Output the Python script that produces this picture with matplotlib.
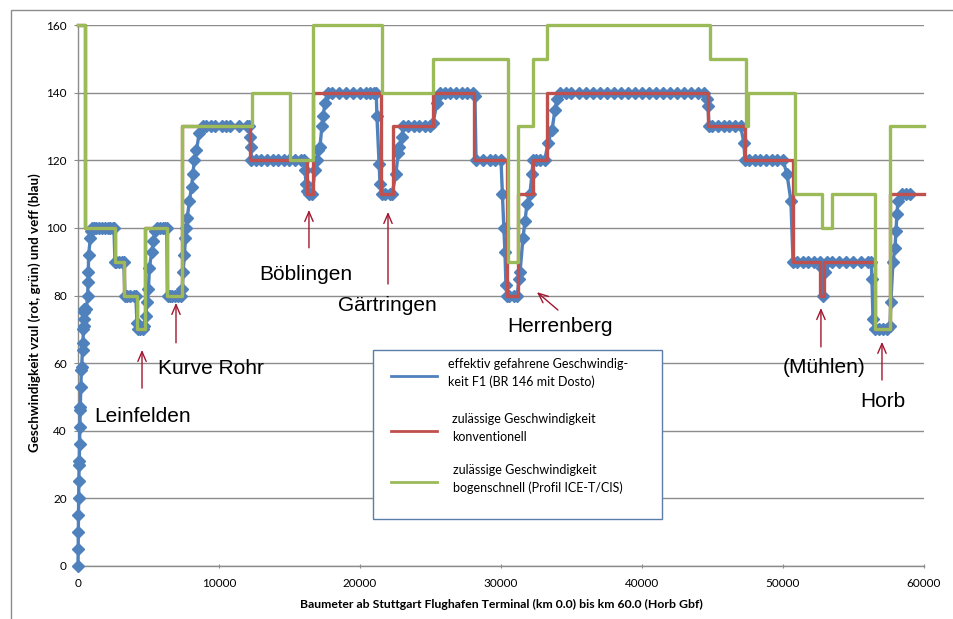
import matplotlib
matplotlib.use("Agg")
import matplotlib.pyplot as plt
from matplotlib.patches import Rectangle
from matplotlib.lines import Line2D

# ---------------- data ----------------
# effective speed (blue), metres / km/h
blue_x = [0, 10, 20, 30, 45, 60, 80, 90, 110, 130, 150, 160, 200, 240, 260, 320, 350, 390, 400, 420,
          440, 460, 600, 680, 720, 730, 750, 880, 930, 1000,
          1100, 1300, 1500, 1700, 1900, 2100, 2300, 2480, 2550, 2620,
          2700, 2900, 3100, 3250, 3330, 3450, 3700, 3950, 4100,
          4180, 4250, 4400, 4600, 4700, 4800, 4900, 5000, 5060, 5230, 5340, 5460, 5600, 5800, 6000, 6200, 6300,
          6350, 6500, 6700, 6900, 7100, 7300,
          7400, 7450, 7550, 7620, 7680, 7750, 7900, 8050, 8150, 8250, 8400, 8600, 8850,
          9100, 9400, 9700, 10200, 10500, 10800, 11400, 12000, 12150, 12200, 12250, 12300,
          12600, 13000, 13400, 13800, 14200, 14600, 15000, 15400, 15800, 16050,
          16100, 16170, 16240, 16400, 16600,
          16800, 16950, 17020, 17160, 17300, 17380, 17520, 17730,
          18000, 18500, 19000, 19500, 20000, 20400, 20700, 21000, 21150,
          21200, 21350, 21420, 21560, 21800, 22100, 22270,
          22550, 22700, 22770, 22980, 23050,
          23400, 23800, 24200, 24600, 25000, 25180,
          25460, 25530, 25670, 26000, 26400, 26800, 27200, 27600, 28000, 28150, 28230,
          28700, 29200, 29600, 30000, 30100, 30200, 30280, 30350, 30420,
          30600, 30900, 31150, 31270, 31350, 31560, 31700, 31840, 32050, 32200, 32270,
          32500, 32800, 33100, 33330, 33620, 33830, 33970, 34180,
          34600, 35000, 35500, 36000, 36500, 37000, 37500, 38000, 38500, 39000, 39500, 40000, 40500,
          41000, 41500, 42000, 42500, 43000, 43500, 44000, 44400,
          44610, 44680, 44750, 45000, 45400, 45800, 46200, 46600, 47000, 47230, 47300,
          47600, 48000, 48400, 48800, 49200, 49600, 50000, 50280, 50560, 50710,
          51000, 51400, 51800, 52200, 52600, 52760, 52830, 52970, 53100,
          53500, 54000, 54500, 55000, 55500, 56000, 56250, 56310, 56380, 56520,
          56800, 57100, 57400, 57590, 57650, 57800, 57940, 58010, 58080, 58150, 58440, 58700, 59000]
blue_v = [0, 5, 10, 15, 20, 25, 30, 31, 36, 41, 46, 47, 53, 58, 59, 64, 66, 70, 71, 73,
          75, 76, 76, 80, 84, 87, 92, 97, 99, 100,
          100, 100, 100, 100, 100, 100, 100, 100, 100, 90,
          90, 90, 90, 90, 80, 80, 80, 80, 80,
          72, 70, 70, 70, 71, 74, 78, 82, 88, 93, 96, 99, 100, 100, 100, 100, 100,
          80, 80, 80, 80, 80, 80,
          82, 87, 92, 97, 100, 103, 108, 112, 116, 120, 123, 128, 130,
          130, 130, 130, 130, 130, 130, 130, 130, 130, 127, 124, 120,
          120, 120, 120, 120, 120, 120, 120, 120, 120, 120,
          117, 113, 111, 110, 110,
          117, 120, 123, 124, 130, 133, 137, 140,
          140, 140, 140, 140, 140, 140, 140, 140, 140,
          133, 119, 113, 110, 110, 110, 110,
          116, 122, 124, 127, 130,
          130, 130, 130, 130, 130, 131,
          137, 139, 140, 140, 140, 140, 140, 140, 140, 139, 120,
          120, 120, 120, 120, 110, 100, 93, 83, 80,
          80, 80, 80, 85, 87, 97, 102, 107, 110, 116, 120,
          120, 120, 120, 125, 129, 135, 138, 140,
          140, 140, 140, 140, 140, 140, 140, 140, 140, 140, 140, 140, 140,
          140, 140, 140, 140, 140, 140, 140, 140,
          138, 136, 130, 130, 130, 130, 130, 130, 130, 125, 120,
          120, 120, 120, 120, 120, 120, 120, 116, 108, 90,
          90, 90, 90, 90, 90, 88, 80, 87, 90,
          90, 90, 90, 90, 90, 90, 90, 85, 73, 70,
          70, 70, 70, 71, 78, 90, 94, 99, 104, 108, 110, 110, 110]

# permitted speed, conventional (red): start of each section / speed
red_x = [0, 500, 2620, 3260, 4150, 4720, 6310, 7350, 12200, 16220, 16670, 21500, 22360, 25180,
         28100, 30420, 31200, 32270, 33260, 44680, 47300, 50700, 52620, 52900, 56520, 57590, 60000]
red_v = [160, 100, 90, 80, 70, 100, 80, 130, 120, 110, 140, 110, 130, 140,
         120, 80, 110, 120, 140, 130, 120, 90, 80, 90, 70, 110, 110]

# permitted speed, tilting profile (green)
green_x = [0, 500, 2620, 3260, 4160, 4750, 6310, 7370, 12340, 15040, 16670, 21560, 25180, 30500,
           31200, 32270, 33260, 44820, 47370, 47550, 50850, 52770, 53470, 56520, 57590, 60000]
green_v = [160, 100, 90, 80, 70, 100, 80, 130, 140, 120, 160, 140, 150, 90,
           130, 150, 160, 150, 130, 140, 110, 100, 110, 70, 130, 130]

y_ticks = [0, 20, 40, 60, 80, 100, 120, 140, 160]
x_ticks = [0, 10000, 20000, 30000, 40000, 50000, 60000]

legend_labels = ["effektiv gefahrene Geschwindig-\nkeit F1 (BR 146 mit Dosto)",
                 "zulässige Geschwindigkeit\nkonventionell",
                 "zulässige Geschwindigkeit\nbogenschnell (Profil ICE-T/CIS)"]

# labels: (text, x_m, v)  and arrows: (tip_x, tip_v, tail_x, tail_v)
place_labels = [("Leinfelden", 1135, 42.6), ("Kurve Rohr", 5674, 56.8), ("Böblingen", 12837, 84.6),
                ("Gärtringen", 18440, 75.4), ("Herrenberg", 30425, 69.2), ("(Mühlen)", 50000, 57.1),
                ("Horb", 55460, 47.0)]
arrows = [(4540, 63.9, 4540, 52.6), (6950, 77.8, 6950, 66.0), (16380, 105.3, 16380, 94.1),
          (21985, 104.7, 21985, 83.4), (32550, 81.0, 34040, 75.7), (52690, 76.3, 52690, 64.8),
          (57020, 66.3, 57020, 55.0)]

BLUE = "#4F81BD"
RED = "#C0504D"
GREEN = "#9BBB59"
ARROW = "#A3152F"
GRID = "#8C8C8C"

W, H = 954, 619
fig = plt.figure(figsize=(W / 100, H / 100), dpi=100)
fig.patch.set_facecolor("white")


def fx(px):
    return px / W


def fy(py):
    return 1 - py / H


# outer chart frame (partly outside image)
fig.add_artist(Rectangle((fx(11), -0.1), 1.2, fy(10) + 0.1, transform=fig.transFigure,
                         fill=False, edgecolor="#8C8C8C", lw=1.0))

ax = fig.add_axes([fx(78), fy(566), 846 / W, 541 / H])
ax.set_xlim(0, 60000)
ax.set_ylim(0, 160)

for s in ["top", "right"]:
    ax.spines[s].set_visible(False)
ax.spines["left"].set_color(GRID)
ax.spines["bottom"].set_color(GRID)
ax.spines["left"].set_linewidth(1.0)
ax.spines["bottom"].set_linewidth(1.0)

ax.set_yticks(y_ticks)
ax.set_xticks(x_ticks)
ax.set_xticklabels([str(t) for t in x_ticks])
ax.yaxis.grid(True, color=GRID, lw=1.0)
ax.set_axisbelow(True)
ax.tick_params(axis="both", colors=GRID, labelcolor="black", labelsize=8.5, length=3, width=0.8)
ax.tick_params(axis="x", direction="inout", pad=7)
ax.tick_params(axis="y", direction="out", pad=5)
for lab in ax.get_xticklabels() + ax.get_yticklabels():
    lab.set_fontfamily("Lato")

ax.plot(blue_x, blue_v, color=BLUE, lw=2.4, marker="D", markersize=6,
        markerfacecolor=BLUE, markeredgecolor=BLUE, zorder=3, clip_on=False)
ax.step(red_x, red_v, where="post", color=RED, lw=2.4, zorder=4, clip_on=False)
ax.step(green_x, green_v, where="post", color=GREEN, lw=2.4, zorder=5, clip_on=False)

fig.text(fx(501), fy(604), "Baumeter ab Stuttgart Flughafen Terminal (km 0.0) bis km 60.0 (Horb Gbf)",
         fontfamily="Lato", fontweight="bold", fontsize=8.8, ha="center", va="center")
fig.text(fx(35), fy(313), "Geschwindigkeit vzul (rot, grün) und veff (blau)",
         fontfamily="Lato", fontweight="bold", fontsize=9.6, ha="center", va="center", rotation=90)

for txt, xm, v in place_labels:
    ax.text(xm, v, txt, fontsize=15, fontfamily="Liberation Sans", ha="left", va="baseline",
            color="black", zorder=6)
for tx, tv, sx, sv in arrows:
    ax.annotate("", xy=(tx, tv), xytext=(sx, sv),
                arrowprops=dict(arrowstyle="->,head_length=0.7,head_width=0.3",
                                color=ARROW, lw=1.0, shrinkA=0, shrinkB=0), zorder=6)

# legend box (figure pixel layout)
fig.add_artist(Rectangle((fx(373), fy(519)), fx(662) - fx(373), fy(350) - fy(519),
                         transform=fig.transFigure, facecolor="white", edgecolor="#5A7EAA",
                         lw=1.0, zorder=10))
leg_rows = [(376, 448, BLUE), (431, 452, RED), (482, 453, GREEN)]
for (ly, tx, col), lab in zip(leg_rows, legend_labels):
    fig.add_artist(Line2D([fx(391), fx(437)], [fy(ly), fy(ly)], transform=fig.transFigure,
                          color=col, lw=2.0, zorder=11))
    fig.text(fx(tx), fy(ly - 3), lab, fontsize=9, fontfamily="Lato", ha="left", va="center",
             linespacing=1.55, zorder=11)

fig.savefig("out.png", dpi=100)
